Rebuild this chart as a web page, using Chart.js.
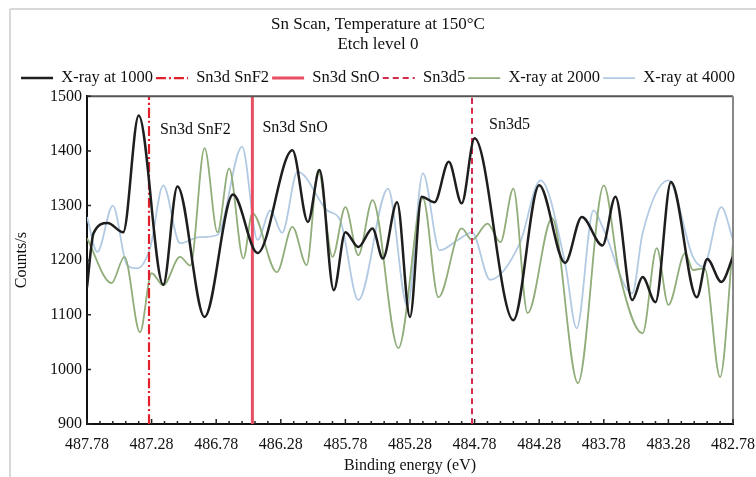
<!DOCTYPE html>
<html>
<head>
<meta charset="utf-8">
<script src="https://cdn.jsdelivr.net/npm/chart.js@4/dist/chart.umd.min.js"></script>
<style>
  html, body { margin: 0; padding: 0; background: #fff; }
  #caixa { width: 756px; height: 477px; }
</style>
</head>
<body>
<div id="caixa"><canvas id="graficoSn"></canvas></div>
<script>
// eixo x (energia de ligacao, eV) e eixo y (contagens/s)
const xTicks = [487.78, 487.28, 486.78, 486.28, 485.78, 485.28, 484.78, 484.28, 483.78, 483.28, 482.78];
const yMin = 900;
const yMax = 1500;
const yPasso = 100;

// X-ray at 1000
const energia1000 = [487.78, 487.73, 487.62, 487.50, 487.38, 487.19, 487.08, 486.87, 486.65, 486.46,
  486.19, 486.07, 485.98, 485.87, 485.78, 485.68, 485.57, 485.49, 485.38, 485.28,
  485.19, 485.09, 484.98, 484.88, 484.78, 484.48, 484.28, 484.08, 483.95, 483.79,
  483.69, 483.56, 483.48, 483.38, 483.26, 483.06, 482.98, 482.87, 482.78];
const contagem1000 = [1150, 1249, 1268, 1251, 1465, 1155, 1335, 1096, 1320, 1213,
  1401, 1270, 1365, 1145, 1251, 1224, 1258, 1203, 1306, 1096,
  1316, 1306, 1380, 1304, 1423, 1090, 1337, 1195, 1279, 1227,
  1316, 1127, 1169, 1123, 1343, 1132, 1202, 1160, 1206];

// X-ray at 2000
const energia2000 = [487.78, 487.59, 487.49, 487.37, 487.28, 487.19, 487.06, 486.98, 486.87, 486.77,
  486.68, 486.57, 486.50, 486.31, 486.19, 486.08, 485.99, 485.88, 485.78, 485.68,
  485.57, 485.37, 485.18, 485.06, 484.88, 484.80, 484.68, 484.58, 484.48, 484.37,
  484.18, 483.98, 483.78, 483.66, 483.48, 483.37, 483.28, 483.15, 483.09, 483.00,
  482.88, 482.78];
const contagem2000 = [1240, 1158, 1206, 1068, 1176, 1154, 1206, 1190, 1405, 1251,
  1368, 1203, 1286, 1178, 1261, 1191, 1365, 1206, 1297, 1209,
  1310, 1039, 1313, 1132, 1258, 1237, 1267, 1233, 1331, 1103,
  1277, 975, 1337, 1176, 1066, 1222, 1118, 1213, 1182, 1185,
  986, 1231];

// X-ray at 4000
const energia4000 = [487.78, 487.70, 487.58, 487.47, 487.39, 487.29, 487.19, 487.06, 486.91, 486.77,
  486.58, 486.46, 486.36, 486.27, 486.15, 485.92, 485.82, 485.68, 485.45, 485.30,
  485.18, 485.05, 484.91, 484.80, 484.66, 484.43, 484.27, 484.08, 483.99, 483.86,
  483.79, 483.56, 483.48, 483.28, 483.09, 483.01, 482.87, 482.78];
const contagem4000 = [1279, 1215, 1300, 1191, 1185, 1224, 1337, 1231, 1242, 1246,
  1408, 1237, 1291, 1250, 1362, 1291, 1273, 1127, 1331, 1115,
  1359, 1218, 1237, 1251, 1164, 1231, 1346, 1195, 1075, 1291,
  1261, 1139, 1249, 1346, 1206, 1188, 1297, 1237];

// linhas de referencia
const refSnF2 = 487.30;
const refSnO = 486.50;
const refSn3d5 = 484.80;

const pontos = (xs, ys) => xs.map((x, i) => ({ x: x, y: ys[i] }));
const vertical = (e) => [{ x: e, y: yMin }, { x: e, y: yMax }];

const fonte = "'Liberation Serif', 'Times New Roman', serif";

// rotulos dentro do grafico (deslocamento em px a partir da linha)
const rotulos = [
  { texto: 'Sn3d SnF2', energia: refSnF2, dx: 11, dy: 33 },
  { texto: 'Sn3d SnO', energia: refSnO, dx: 10, dy: 31 },
  { texto: 'Sn3d5', energia: refSn3d5, dx: 17, dy: 28 }
];

const moldura = {
  id: 'moldura',
  beforeDraw(chart) {
    const ctx = chart.ctx;
    ctx.save();
    ctx.fillStyle = '#fff';
    ctx.fillRect(0, 0, chart.width, chart.height);
    ctx.strokeStyle = '#d8d8d8';
    ctx.lineWidth = 2;
    ctx.beginPath();
    ctx.moveTo(10, 9);
    ctx.lineTo(chart.width, 9);
    ctx.moveTo(10, 9);
    ctx.lineTo(10, chart.height);
    ctx.stroke();
    ctx.restore();
  },
  afterDraw(chart) {
    const ctx = chart.ctx;
    const a = chart.chartArea;
    const sx = chart.scales.x;
    const sy = chart.scales.y;
    ctx.save();
    // borda superior e direita
    ctx.lineWidth = 2;
    ctx.strokeStyle = '#555';
    ctx.beginPath();
    ctx.moveTo(a.left, a.top);
    ctx.lineTo(a.right, a.top);
    ctx.stroke();
    ctx.strokeStyle = '#888';
    ctx.beginPath();
    ctx.moveTo(a.right, a.top);
    ctx.lineTo(a.right, a.bottom);
    ctx.stroke();

    // marcas para dentro
    ctx.strokeStyle = '#222';
    ctx.lineWidth = 1.5;
    ctx.beginPath();
    xTicks.forEach((v, i) => {
      const px = sx.getPixelForValue(v);
      ctx.moveTo(px, a.bottom);
      ctx.lineTo(px, a.bottom - 5);
      if (i < xTicks.length - 1) {
        for (let k = 1; k < 5; k++) {
          const m = sx.getPixelForValue(v - k * 0.1);
          ctx.moveTo(m, a.bottom);
          ctx.lineTo(m, a.bottom - 3);
        }
      }
    });
    for (let v = yMin; v <= yMax; v += yPasso) {
      const py = sy.getPixelForValue(v);
      ctx.moveTo(a.left, py);
      ctx.lineTo(a.left + 4, py);
    }
    ctx.stroke();

    // rotulos
    ctx.fillStyle = '#111';
    ctx.font = '16px ' + fonte;
    ctx.textBaseline = 'middle';
    ctx.textAlign = 'left';
    rotulos.forEach(r => {
      ctx.fillText(r.texto, sx.getPixelForValue(r.energia) + r.dx, a.top + r.dy);
    });
    ctx.restore();
  }
};

class GraficoSn {
  constructor() {
    this.ctx = document.getElementById('graficoSn').getContext('2d');
  }

  renderizar() {
    Chart.defaults.font.family = fonte;
    Chart.defaults.color = '#111';

    new Chart(this.ctx, {
      type: 'line',
      data: {
        datasets: [
          {
            label: 'X-ray at 1000',
            data: pontos(energia1000, contagem1000),
            borderColor: '#1e1e1e',
            borderWidth: 2.5
          },
          {
            label: 'Sn3d SnF2',
            data: vertical(refSnF2),
            borderColor: '#e2202c',
            borderWidth: 2.2,
            borderDash: [10, 3, 2, 3]
          },
          {
            label: 'Sn3d SnO',
            data: vertical(refSnO),
            borderColor: '#ea4e62',
            borderWidth: 3
          },
          {
            label: 'Sn3d5',
            data: vertical(refSn3d5),
            borderColor: '#d42a4c',
            borderWidth: 2,
            borderDash: [6, 4]
          },
          {
            label: 'X-ray at 2000',
            data: pontos(energia2000, contagem2000),
            borderColor: '#90ad7a',
            borderWidth: 1.8
          },
          {
            label: 'X-ray at 4000',
            data: pontos(energia4000, contagem4000),
            borderColor: '#b3cae3',
            borderWidth: 1.8
          }
        ].map(d => Object.assign({
          fill: false,
          pointRadius: 0,
          pointHoverRadius: 0,
          pointStyle: 'line',
          cubicInterpolationMode: 'monotone'
        }, d))
      },
      options: {
        responsive: true,
        maintainAspectRatio: false,
        devicePixelRatio: 1,
        animation: false,
        events: [],
        layout: { padding: 0 },
        plugins: {
          title: {
            display: true,
            text: ['Sn Scan, Temperature at 150°C', 'Etch level 0'],
            color: '#111',
            font: { size: 17, weight: 'normal', family: fonte },
            padding: { top: 14, bottom: 12 }
          },
          legend: {
            display: true,
            labels: {
              usePointStyle: true,
              pointStyleWidth: 32,
              padding: 3,
              color: '#111',
              font: { size: 16.5, family: fonte },
              generateLabels: (chart) => {
                const itens = Chart.defaults.plugins.legend.labels.generateLabels(chart);
                itens.forEach(it => {
                  const ds = chart.data.datasets[it.datasetIndex];
                  it.lineDash = ds.borderDash || [];
                  it.lineWidth = ds.borderWidth;
                  it.strokeStyle = ds.borderColor;
                });
                return itens;
              }
            }
          },
          tooltip: { enabled: false }
        },
        scales: {
          x: {
            type: 'linear',
            reverse: true,
            min: 482.78,
            max: 487.78,
            afterBuildTicks: (scale) => {
              scale.ticks = xTicks.map(v => ({ value: v }));
            },
            afterFit: (scale) => { scale.height = 53; },
            ticks: {
              autoSkip: false,
              maxRotation: 0,
              minRotation: 0,
              padding: 1,
              color: '#111',
              font: { size: 16 },
              callback: (v) => Number(v).toFixed(2)
            },
            grid: {
              drawOnChartArea: false,
              drawTicks: true,
              tickLength: 10,
              tickColor: 'rgba(0,0,0,0)'
            },
            border: { display: true, color: '#111', width: 2 },
            title: {
              display: true,
              text: 'Binding energy (eV)',
              color: '#111',
              font: { size: 16 },
              padding: { top: 0, bottom: 1.5 }
            }
          },
          y: {
            min: yMin,
            max: yMax,
            afterFit: (scale) => { scale.width = 87; },
            ticks: {
              stepSize: yPasso,
              padding: 5,
              color: '#111',
              font: { size: 16 },
              callback: (v) => String(v)
            },
            grid: { drawOnChartArea: false, drawTicks: false },
            border: { display: true, color: '#111', width: 2 },
            title: {
              display: true,
              text: 'Counts/s',
              color: '#111',
              font: { size: 16 },
              padding: { top: 12, bottom: 0 }
            }
          }
        }
      },
      plugins: [moldura]
    });
  }
}

new GraficoSn().renderizar();
</script>
</body>
</html>
